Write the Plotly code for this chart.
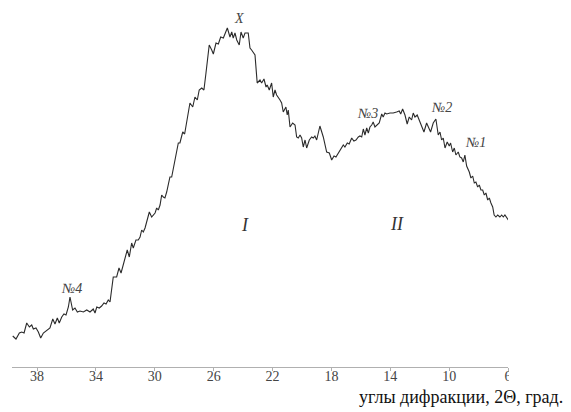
import plotly.graph_objects as go

# 2-theta (degrees) and intensity (arbitrary units)
two_theta = [
    39.65, 39.43, 39.20, 39.04, 38.88, 38.70, 38.52, 38.36, 38.25, 38.07,
    37.91, 37.75, 37.57, 37.34, 37.12, 36.93, 36.78, 36.62, 36.49, 36.32,
    36.17, 36.03, 35.87, 35.76, 35.58, 35.42, 35.26, 35.08, 34.85, 34.62,
    34.40, 34.18, 34.06, 33.94, 33.77, 33.61, 33.45, 33.31, 33.16, 33.04,
    32.82, 32.59, 32.43, 32.29, 32.14, 32.02, 31.87, 31.73, 31.57, 31.46,
    31.28, 31.12, 31.00, 30.89, 30.78, 30.66, 30.51, 30.37, 30.21, 30.10,
    29.98, 29.87, 29.76, 29.64, 29.53, 29.42, 29.31, 29.19, 29.08, 28.97,
    28.85, 28.74, 28.56, 28.40, 28.29, 28.10, 27.97, 27.79, 27.61, 27.42,
    27.27, 27.11, 26.98, 26.81, 26.66, 26.52, 26.30, 26.13, 26.02, 25.84,
    25.68, 25.52, 25.34, 25.07, 24.89, 24.77, 24.67, 24.55, 24.43, 24.26,
    24.14, 23.99, 23.87, 23.65, 23.53, 23.42, 23.31, 23.19, 23.04, 22.85,
    22.74, 22.58, 22.44, 22.36, 22.22, 22.06, 21.95, 21.83, 21.72, 21.61,
    21.49, 21.38, 21.27, 21.09, 21.00, 20.93, 20.81, 20.63, 20.47, 20.36,
    20.25, 20.13, 20.02, 19.91, 19.79, 19.68, 19.50, 19.34, 19.23, 19.12,
    19.00, 18.78, 18.55, 18.32, 18.14, 17.98, 17.82, 17.69, 17.53, 17.37,
    17.19, 17.08, 16.92, 16.79, 16.62, 16.47, 16.33, 16.17, 16.06, 15.94,
    15.83, 15.72, 15.60, 15.49, 15.38, 15.26, 15.16, 15.04, 14.92, 14.75,
    14.58, 14.48, 14.36, 14.24, 14.02, 13.80, 13.57, 13.39, 13.29, 13.16,
    13.00, 12.85, 12.71, 12.55, 12.44, 12.32, 12.17, 11.98, 11.80, 11.71,
    11.53, 11.42, 11.26, 11.08, 10.90, 10.74, 10.62, 10.51, 10.40, 10.28,
    10.13, 9.99, 9.90, 9.76, 9.65, 9.54, 9.38, 9.27, 9.15, 9.04,
    8.93, 8.81, 8.63, 8.52, 8.40, 8.29, 8.18, 8.06, 7.95, 7.84,
    7.72, 7.61, 7.50, 7.38, 7.27, 7.16, 7.04, 6.94, 6.82, 6.70,
    6.55, 6.43, 6.32, 6.21, 6.09, 5.98,
]

intensity = [
    24, 21, 27, 28, 27, 37, 33, 35, 31, 32,
    28, 22, 27, 30, 32, 41, 36, 42, 37, 43,
    46, 45, 53, 63, 50, 52, 48, 49, 48, 50,
    48, 51, 47, 53, 52, 54, 57, 56, 60, 58,
    83, 83, 92, 87, 95, 100, 110, 103, 117, 112,
    120, 120, 123, 130, 128, 132, 140, 148, 143, 145,
    147, 152, 150, 155, 165, 163, 162, 168, 177, 183,
    183, 192, 205, 217, 217, 228, 226, 243, 257, 253,
    263, 260, 270, 272, 270, 287, 315, 310, 306, 317,
    316, 323, 322, 332, 323, 328, 322, 327, 320, 315,
    328, 322, 327, 327, 312, 310, 308, 305, 277, 280,
    277, 281, 273, 275, 270, 277, 263, 270, 265, 263,
    260, 257, 248, 253, 245, 250, 233, 237, 235, 223,
    222, 225, 222, 213, 220, 212, 220, 223, 222, 224,
    220, 234, 223, 208, 207, 200, 204, 203, 207, 210,
    215, 213, 217, 216, 222, 219, 220, 223, 224, 223,
    231, 225, 232, 227, 233, 235, 238, 233, 235, 237,
    246, 243, 247, 246, 247, 247, 248, 249, 246, 251,
    245, 236, 243, 240, 247, 243, 245, 238, 233, 228,
    237, 233, 228, 237, 241, 225, 228, 220, 222, 212,
    218, 214, 217, 208, 212, 205, 208, 203, 202, 198,
    205, 194, 188, 182, 184, 177, 178, 173, 175, 170,
    170, 165, 167, 160, 162, 157, 153, 145, 143, 145,
    143, 145, 143, 145, 142, 140,
]

x_ticks = [38, 34, 30, 26, 22, 18, 14, 10, 6]

labels = ["X", "№4", "№3", "№2", "№1"]
label_x = [24.28, 35.69, 15.58, 10.49, 8.18]
label_y = [342, 72, 247, 253, 218]

region_labels = ["I", "II"]
region_x = [23.87, 13.55]
region_y = [135, 136]

SERIF = "Liberation Serif, Times New Roman, DejaVu Serif, serif"

fig = go.Figure()
fig.add_trace(go.Scatter(
    x=two_theta, y=intensity, mode="lines",
    line=dict(color="#2b2b2b", width=1.1),
    showlegend=False, hoverinfo="skip",
))

annotations = []
for t, xv, yv in zip(labels, label_x, label_y):
    annotations.append(dict(
        x=xv, y=yv, xref="x", yref="y", text="<i>" + t + "</i>", showarrow=False,
        font=dict(family=SERIF, size=14, color="#444"),
        xanchor="center", yanchor="middle",
    ))
for t, xv, yv in zip(region_labels, region_x, region_y):
    annotations.append(dict(
        x=xv, y=yv, xref="x", yref="y", text="<i>" + t + "</i>", showarrow=False,
        font=dict(family=SERIF, size=18, color="#333"),
        xanchor="center", yanchor="middle",
    ))

# white patch that crops the last tick label as in the original picture
annotations.append(dict(
    x=1.002, y=-0.022, xref="paper", yref="paper", text=" ", showarrow=False,
    xanchor="left", yanchor="middle", width=24, height=16,
    bgcolor="white", borderpad=0, borderwidth=0,
))

annotations.append(dict(
    x=1.114, y=-0.085, xref="paper", yref="paper",
    text="углы дифракции, 2Θ, град.", showarrow=False,
    font=dict(family=SERIF, size=18, color="#111"),
    xanchor="right", yanchor="middle",
))

fig.update_layout(
    width=563, height=404,
    margin=dict(l=4, r=63, t=2, b=45),
    paper_bgcolor="white", plot_bgcolor="white",
    annotations=annotations,
    xaxis=dict(
        range=[39.7, 6], tickvals=x_ticks, ticktext=[str(v) for v in x_ticks],
        showgrid=False, zeroline=False, showline=True, linecolor="#b0b0b0",
        linewidth=1, ticks="outside", ticklen=3, tickcolor="#b0b0b0",
        ticklabelstandoff=-7,
        tickfont=dict(family=SERIF, size=14, color="#444"),
    ),
    yaxis=dict(range=[-7, 350], visible=False),
)

fig.write_html("out.html")
